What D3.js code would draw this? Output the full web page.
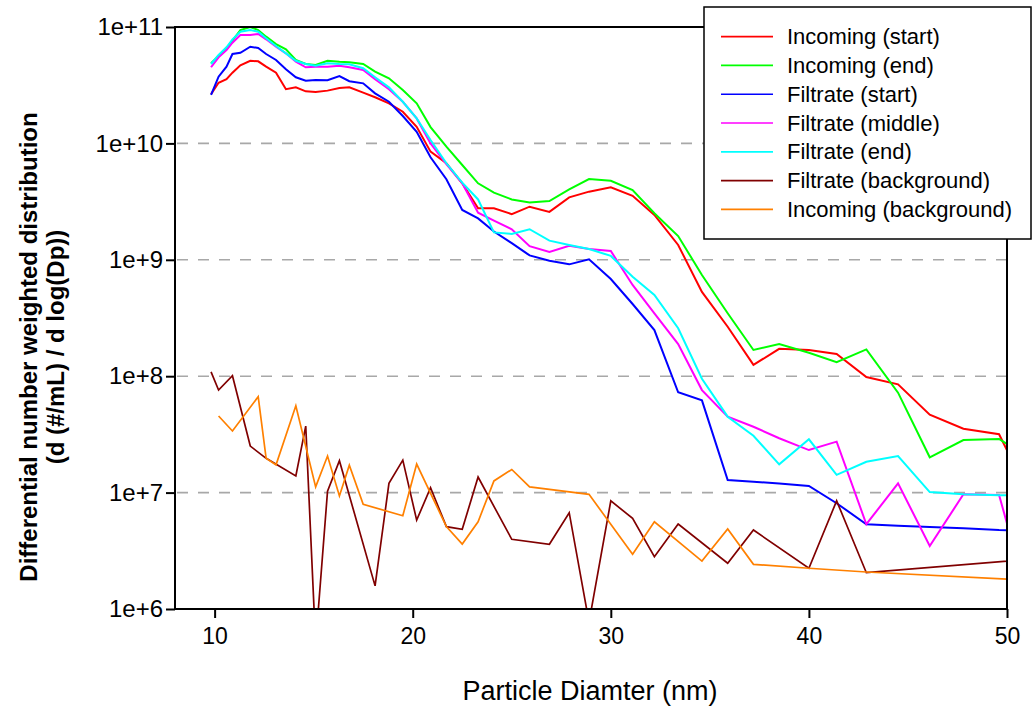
<!DOCTYPE html>
<html><head><meta charset="utf-8">
<script src="https://cdn.jsdelivr.net/npm/d3@7"></script>
<style>
body{margin:0;background:#fff;}
svg{display:block;}
text{font-family:"Liberation Sans",Arial,sans-serif;fill:#000;}
</style>
</head><body>
<svg id="chart" width="1033" height="708"></svg>
<script>
// Particle diameter bins (nm)
const diameters = [9.82,10.2,10.6,10.9,11.3,11.8,12.2,12.6,13.1,13.6,14.1,14.6,15.1,15.7,16.3,16.8,17.5,18.1,18.8,19.5,20.2,20.9,21.7,22.5,23.3,24.1,25.0,25.9,26.9,27.9,28.9,30.0,31.1,32.2,33.4,34.6,35.9,37.2,38.5,40.0,41.4,42.9,44.5,46.1,47.8,49.6,51.4];

const incomingStart = [2.65e10,3.32e10,3.56e10,4.05e10,4.69e10,5.13e10,5.07e10,4.56e10,4.05e10,2.92e10,3.03e10,2.80e10,2.77e10,2.84e10,2.99e10,3.03e10,2.73e10,2.49e10,2.21e10,1.87e10,1.39e10,8.49e9,6.75e9,4.54e9,2.77e9,2.77e9,2.47e9,2.86e9,2.58e9,3.44e9,3.85e9,4.20e9,3.55e9,2.43e9,1.34e9,5.3e8,2.66e8,1.25e8,1.72e8,1.68e8,1.55e8,9.84e7,8.51e7,4.67e7,3.54e7,3.17e7,7.7e6];

const incomingEnd = [4.88e10,5.63e10,6.56e10,7.63e10,9.42e10,1.0e11,9.42e10,8.26e10,7.14e10,6.43e10,5.21e10,4.81e10,4.72e10,5.13e10,5.03e10,4.97e10,4.81e10,4.13e10,3.63e10,2.88e10,2.21e10,1.38e10,9.37e9,6.52e9,4.54e9,3.77e9,3.3e9,3.10e9,3.20e9,4.03e9,4.94e9,4.78e9,3.98e9,2.51e9,1.60e9,7.4e8,3.47e8,1.68e8,1.89e8,1.59e8,1.32e8,1.70e8,7.22e7,2.01e7,2.83e7,2.89e7,1.84e7];

const filtrateStart = [2.61e10,3.74e10,4.56e10,5.86e10,6.01e10,6.77e10,6.60e10,5.86e10,5.21e10,4.33e10,3.70e10,3.46e10,3.51e10,3.49e10,3.79e10,3.42e10,3.28e10,2.69e10,2.28e10,1.72e10,1.26e10,7.6e9,4.92e9,2.68e9,2.27e9,1.75e9,1.39e9,1.09e9,9.8e8,9.14e8,1.01e9,6.84e8,4.17e8,2.49e8,7.28e7,6.2e7,1.28e7,1.24e7,1.20e7,1.14e7,8.1e6,5.35e6,5.2e6,5.06e6,4.95e6,4.77e6,4.67e6];

const filtrateMiddle = [4.51e10,5.49e10,6.35e10,7.33e10,8.54e10,8.54e10,8.71e10,7.84e10,6.77e10,5.94e10,5.03e10,4.51e10,4.56e10,4.56e10,4.65e10,4.51e10,4.27e10,3.56e10,2.92e10,2.28e10,1.64e10,1.0e10,6.65e9,4.54e9,2.54e9,2.17e9,1.83e9,1.31e9,1.17e9,1.32e9,1.24e9,1.19e9,6.08e8,3.47e8,1.89e8,7.6e7,4.49e7,3.68e7,2.93e7,2.32e7,2.74e7,5.35e6,1.20e7,3.48e6,9.67e6,9.55e6,7.5e5];

const filtrateEnd = [4.81e10,5.75e10,6.69e10,7.84e10,9.12e10,9.42e10,9.12e10,8.0e10,6.87e10,5.94e10,5.13e10,4.81e10,4.65e10,4.88e10,4.81e10,4.78e10,4.42e10,3.70e10,3.03e10,2.28e10,1.64e10,1.07e10,6.75e9,4.6e9,3.3e9,1.72e9,1.67e9,1.83e9,1.46e9,1.34e9,1.24e9,1.08e9,7.16e8,4.99e8,2.58e8,9.5e7,4.49e7,3.08e7,1.75e7,2.87e7,1.42e7,1.84e7,2.06e7,1.01e7,9.67e6,9.5e6,9.4e6];

const filtrateBackground = [1.09e8,7.6e7,null,1.01e8,null,2.51e7,null,1.97e7,null,null,1.39e7,3.73e7,5e5,1.03e7,1.88e7,null,null,1.58e6,1.2e7,1.9e7,5.8e6,1.10e7,5.1e6,4.84e6,1.36e7,null,3.97e6,null,3.6e6,6.72e6,7.7e5,8.5e6,6.0e6,2.81e6,5.37e6,null,2.47e6,4.77e6,null,2.24e6,8.5e6,2.05e6,null,null,null,null,2.7e6];

const incomingBackground = [null,4.55e7,null,3.38e7,null,null,6.67e7,1.97e7,1.73e7,null,5.58e7,null,1.12e7,2.06e7,9.35e6,1.72e7,7.93e6,null,null,6.33e6,1.76e7,null,5.1e6,3.61e6,5.62e6,1.26e7,1.58e7,1.12e7,null,null,9.67e6,null,2.95e6,5.62e6,null,2.58e6,4.87e6,2.42e6,null,2.24e6,null,2.08e6,null,null,null,null,1.76e6];

const seriesNames = ["Incoming (start)","Incoming (end)","Filtrate (start)","Filtrate (middle)","Filtrate (end)","Filtrate (background)","Incoming (background)"];
const seriesColors = ["#ff0000","#00ff00","#0000ff","#ff00ff","#00ffff","#800000","#ff8000"];
const seriesValues = [incomingStart,incomingEnd,filtrateStart,filtrateMiddle,filtrateEnd,filtrateBackground,incomingBackground];

const yTickValues = [1e6,1e7,1e8,1e9,1e10,1e11];
const yTickLabels = ["1e+6","1e+7","1e+8","1e+9","1e+10","1e+11"];
const gridValues = [1e7,1e8,1e9,1e10];
const xTickValues = [10,20,30,40,50];

const svg = d3.select("#chart");
const L = 175, R = 1007, T = 27, B = 609;
const x = d3.scaleLinear().domain([8,50]).range([L,R]);
const y = d3.scaleLog().domain([1e6,1e11]).range([B,T]);

// grid
svg.append("g").selectAll("line").data(gridValues).join("line")
  .attr("x1",L+2).attr("x2",R-1).attr("y1",d=>y(d)).attr("y2",d=>y(d))
  .attr("stroke","#a8a8a8").attr("stroke-width",1.6).attr("stroke-dasharray","11,10");

svg.append("clipPath").attr("id","clip").append("rect")
  .attr("x",L).attr("y",T).attr("width",R-L).attr("height",B-T);

const line = d3.line().x(d=>x(d[0])).y(d=>y(d[1]));
const plotG = svg.append("g").attr("clip-path","url(#clip)");
seriesValues.forEach((vals,k)=>{
  const pts = diameters.map((d,i)=>[d,vals[i]]).filter(p=>p[1]!=null);
  plotG.append("path").attr("d",line(pts)).attr("fill","none")
    .attr("stroke",seriesColors[k]).attr("stroke-width",k>=5?1.7:2)
    .attr("stroke-linejoin","miter");
});

// axes
const yAxis = d3.axisLeft(y).tickValues(yTickValues)
  .tickFormat((d,i)=>yTickLabels[i]).tickSize(9).tickSizeOuter(0).tickPadding(3);
const gy = svg.append("g").attr("transform",`translate(${L},0)`).call(yAxis);
gy.select(".domain").remove();
gy.selectAll("line").attr("stroke","#000").attr("stroke-width",2);
gy.selectAll("text").attr("font-size",24).style("font-family","'Liberation Sans',Arial,sans-serif");

const xAxis = d3.axisBottom(x).tickValues(xTickValues).tickFormat(d3.format("d"))
  .tickSize(9).tickSizeOuter(0).tickPadding(10);
const gx = svg.append("g").attr("transform",`translate(0,${B})`).call(xAxis);
gx.select(".domain").remove();
gx.selectAll("line").attr("stroke","#000").attr("stroke-width",2);
gx.selectAll("text").attr("font-size",23).style("font-family","'Liberation Sans',Arial,sans-serif");

// frame
svg.append("rect").attr("x",L).attr("y",T).attr("width",R-L).attr("height",B-T)
  .attr("fill","none").attr("stroke","#000").attr("stroke-width",2);

// titles
svg.append("text").attr("x",590).attr("y",700).attr("text-anchor","middle")
  .attr("font-size",27).text("Particle Diamter (nm)");
svg.append("text").attr("transform","translate(37,347) rotate(-90)").attr("text-anchor","middle")
  .attr("font-size",24).attr("font-weight","bold").text("Differential number weighted distribution");
svg.append("text").attr("transform","translate(64,347) rotate(-90)").attr("text-anchor","middle")
  .attr("font-size",24).attr("font-weight","bold").text("(d (#/mL) / d log(Dp))");

// legend
const lg = svg.append("g");
lg.append("rect").attr("x",704).attr("y",7).attr("width",327).attr("height",232)
  .attr("fill","#fff").attr("stroke","#000").attr("stroke-width",1.5);
const rows = lg.selectAll("g.row").data(seriesNames).join("g").attr("class","row")
  .attr("transform",(d,i)=>`translate(0,${36.7+i*28.77})`);
rows.append("line").attr("x1",721).attr("x2",773).attr("y1",0).attr("y2",0)
  .attr("stroke",(d,i)=>seriesColors[i]).attr("stroke-width",1.7);
rows.append("text").attr("x",787).attr("y",0).attr("dy","0.35em").attr("font-size",22).text(d=>d);
</script>
</body></html>
